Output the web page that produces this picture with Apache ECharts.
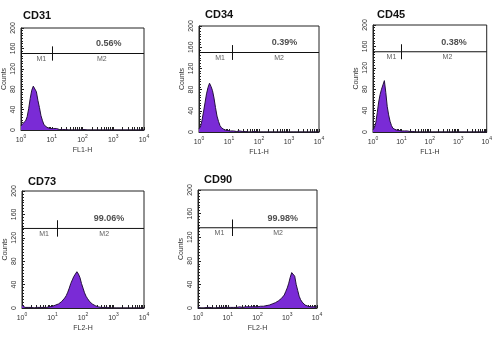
<!DOCTYPE html>
<html>
<head>
<meta charset="utf-8">
<script src="https://cdn.jsdelivr.net/npm/echarts@6/dist/echarts.min.js"></script>
<style>
  html, body { margin: 0; padding: 0; background: #fff; }
  #chart { width: 495px; height: 340px; }
</style>
</head>
<body>
<div id="chart"></div>
<script>
// channel positions as log10 of fluorescence (0 = 10^0 ... 4 = 10^4)
const channels = [
  0, 0.05, 0.1, 0.15, 0.2, 0.25, 0.3, 0.35, 0.4, 0.45,
  0.5, 0.55, 0.6, 0.65, 0.7, 0.75, 0.8, 0.85, 0.9, 0.95,
  1, 1.05, 1.1, 1.15, 1.2, 1.25, 1.3, 1.35, 1.4, 1.45,
  1.5, 1.55, 1.6, 1.65, 1.7, 1.75, 1.8, 1.85, 1.9, 1.95,
  2, 2.05, 2.1, 2.15, 2.2, 2.25, 2.3, 2.35, 2.4, 2.45,
  2.5, 2.55, 2.6, 2.65, 2.7, 2.75, 2.8, 2.85, 2.9, 2.95,
  3, 3.05, 3.1, 3.15, 3.2, 3.25, 3.3, 3.35, 3.4, 3.45,
  3.5, 3.55, 3.6, 3.65, 3.7, 3.75, 3.8, 3.85, 3.9, 3.95,
  4
];

const markers = ["CD31", "CD34", "CD45", "CD73", "CD90"];
const detectors = ["FL1-H", "FL1-H", "FL1-H", "FL2-H", "FL2-H"];
const positives = ["0.56%", "0.39%", "0.38%", "99.06%", "99.98%"];
const gateSplit = [1.02, 1.1, 1.0, 1.15, 1.14];
const gateLevel = [150, 150, 150, 136, 136];
const decades = [0, 1, 2, 3, 4];

const cd31 = [
  8, 12, 14, 18, 26, 42, 62, 78, 86, 84,
  75, 58, 44, 28, 18, 10, 7, 5, 4, 3,
  2, 3, 4, 3, 2, 1, 1, 1, 0, 1,
  0, 0, 1, 0, 0, 0, 1, 0, 0, 0,
  0, 1, 0, 0, 0, 0, 0, 0, 0, 0,
  0, 0, 0, 0, 0, 0, 0, 0, 0, 0,
  0, 0, 0, 0, 0, 0, 0, 0, 0, 0,
  0, 0, 0, 0, 0, 0, 0, 0, 0, 0,
  0
];
const cd34 = [
  6, 10, 22, 38, 55, 72, 84, 92, 86, 78,
  64, 46, 30, 20, 12, 8, 6, 4, 3, 3,
  2, 2, 3, 2, 2, 1, 1, 2, 1, 1,
  2, 1, 1, 0, 1, 0, 0, 1, 0, 0,
  0, 0, 0, 0, 0, 0, 0, 0, 0, 0,
  0, 0, 0, 0, 0, 0, 0, 0, 0, 0,
  0, 0, 0, 0, 0, 0, 0, 0, 0, 0,
  0, 0, 0, 0, 0, 0, 0, 0, 0, 0,
  0
];
const cd45 = [
  4, 8, 18, 36, 56, 70, 80, 88, 96, 74,
  48, 32, 20, 12, 7, 5, 4, 3, 3, 2,
  2, 2, 2, 1, 2, 1, 1, 1, 1, 1,
  0, 1, 0, 0, 0, 1, 0, 0, 0, 0,
  0, 0, 0, 0, 0, 0, 0, 0, 0, 0,
  0, 0, 0, 0, 0, 0, 0, 0, 0, 0,
  0, 0, 0, 0, 0, 0, 0, 0, 0, 0,
  0, 0, 0, 0, 0, 0, 0, 0, 0, 0,
  0
];
const cd73 = [
  5, 2, 1, 0, 1, 0, 1, 1, 0, 1,
  1, 0, 1, 1, 1, 1, 1, 1, 2, 2,
  3, 4, 5, 6, 7, 9, 11, 14, 17, 21,
  27, 34, 42, 48, 54, 58, 62, 58, 52, 42,
  34, 26, 20, 16, 12, 9, 7, 5, 4, 3,
  2, 2, 1, 1, 1, 0, 1, 0, 0, 0,
  0, 0, 0, 0, 0, 0, 0, 0, 0, 0,
  0, 0, 0, 0, 0, 0, 0, 0, 0, 0,
  0
];
const cd90 = [
  1, 0, 0, 1, 0, 0, 1, 0, 1, 0,
  0, 1, 0, 1, 1, 0, 1, 1, 1, 1,
  1, 1, 1, 2, 1, 1, 1, 1, 2, 1,
  1, 1, 2, 1, 2, 1, 2, 2, 2, 3,
  2, 2, 3, 3, 3, 4, 4, 5, 5, 6,
  7, 8, 9, 10, 12, 14, 16, 19, 22, 28,
  34, 42, 52, 60, 62, 54, 40, 30, 20, 14,
  10, 7, 5, 4, 3, 3, 2, 2, 2, 1,
  2
];
const counts = [cd31, cd34, cd45, cd73, cd90];

// plot boxes in pixels
const boxes = [
  { left: 19, top: 28, width: 125, height: 102 },
  { left: 199, top: 26, width: 120, height: 106 },
  { left: 373, top: 25, width: 119, height: 107 },
  { left: 22, top: 191, width: 122, height: 117 },
  { left: 198, top: 190, width: 119, height: 118 }
];
const titlePos = [[23, 10], [205, 9], [377, 9], [28, 176], [204, 174]];

// log-style tick marks: decades plus 2..9 inside each decade
const xTicks = [];
decades.forEach(function (d) {
  xTicks.push(d);
  if (d < 4) {
    for (let k = 2; k <= 9; k++) xTicks.push(d + Math.log10(k));
  }
});

const font = "Liberation Sans, Arial, sans-serif";
const axisColor = "#222";

const option = {
  animation: false,
  backgroundColor: "#fff",
  title: [],
  grid: [],
  xAxis: [],
  yAxis: [],
  series: []
};

markers.forEach(function (name, i) {
  const lvl = gateLevel[i];
  const split = gateSplit[i];

  option.title.push({
    text: name,
    left: titlePos[i][0],
    top: titlePos[i][1],
    padding: 0,
    textStyle: { fontSize: 11, fontWeight: "bold", color: "#111", fontFamily: font }
  });

  option.grid.push(Object.assign({
    show: true,
    borderColor: axisColor,
    borderWidth: 1,
    containLabel: false
  }, boxes[i]));

  option.xAxis.push({
    gridIndex: i,
    type: "value",
    min: 0,
    max: 4,
    interval: 1,
    name: detectors[i],
    nameLocation: "middle",
    nameGap: 17,
    nameTextStyle: { fontSize: 7, color: "#333", fontFamily: font },
    axisLine: { show: true, onZero: false, lineStyle: { color: axisColor, width: 1 } },
    axisTick: {
      show: true,
      inside: true,
      length: 3,
      customValues: xTicks,
      lineStyle: { color: axisColor, width: 1 }
    },
    splitLine: { show: false },
    axisLabel: {
      margin: 4,
      color: "#333",
      fontFamily: font,
      formatter: function (v) {
        return "{b|10}{s|" + v + "}";
      },
      rich: {
        b: { fontSize: 7, lineHeight: 10, verticalAlign: "bottom", color: "#333", fontFamily: font },
        s: { fontSize: 5, lineHeight: 6, verticalAlign: "top", color: "#333", fontFamily: font }
      }
    }
  });

  option.yAxis.push({
    gridIndex: i,
    type: "value",
    min: 0,
    max: 200,
    interval: 40,
    name: "Counts",
    nameLocation: "middle",
    nameGap: 13,
    nameRotate: 90,
    nameTextStyle: { fontSize: 7, color: "#333", fontFamily: font },
    axisLine: { show: true, lineStyle: { color: axisColor, width: 1 } },
    axisTick: { show: true, inside: true, length: 3, lineStyle: { color: axisColor } },
    minorTick: { show: true, splitNumber: 8, length: 2, lineStyle: { color: axisColor } },
    splitLine: { show: false },
    minorSplitLine: { show: false },
    axisLabel: { rotate: 90, fontSize: 7, margin: 4, color: "#333", fontFamily: font }
  });

  // histogram
  option.series.push({
    type: "line",
    xAxisIndex: i,
    yAxisIndex: i,
    data: channels.map(function (c, j) { return [c, counts[i][j]]; }),
    showSymbol: false,
    symbol: "none",
    lineStyle: { color: "#24103d", width: 1 },
    areaStyle: { color: "#7a2bd6", opacity: 1 },
    z: 2
  });

  // M1 / M2 gate bar
  option.series.push({
    type: "line",
    xAxisIndex: i,
    yAxisIndex: i,
    data: [[0, lvl], [4, lvl]],
    symbol: "none",
    lineStyle: { color: "#111", width: 1 },
    z: 3,
    markLine: {
      silent: true,
      symbol: ["none", "none"],
      label: { show: false },
      lineStyle: { color: "#111", width: 1, type: "solid" },
      data: [
        [{ coord: [split, lvl - 14] }, { coord: [split, lvl + 14] }],
        [{ coord: [0.02, lvl - 6] }, { coord: [0.02, lvl + 6] }]
      ]
    }
  });

  // gate labels and percentage
  option.series.push({
    type: "scatter",
    xAxisIndex: i,
    yAxisIndex: i,
    symbolSize: 0,
    silent: true,
    z: 4,
    label: {
      show: true,
      formatter: "{b}",
      position: "bottom",
      distance: 2,
      fontSize: 7,
      color: "#333",
      fontFamily: font
    },
    data: [
      { name: "M1", value: [split / 2 + 0.15, lvl] },
      { name: "M2", value: [(split + 4) / 2 + 0.12, lvl] },
      {
        name: positives[i],
        value: [2.85, lvl],
        label: { position: "top", distance: 5, fontSize: 9, fontWeight: "bold", color: "#222" }
      }
    ]
  });
});

const chart = echarts.init(document.getElementById("chart"));
chart.setOption(option);
</script>
</body>
</html>
